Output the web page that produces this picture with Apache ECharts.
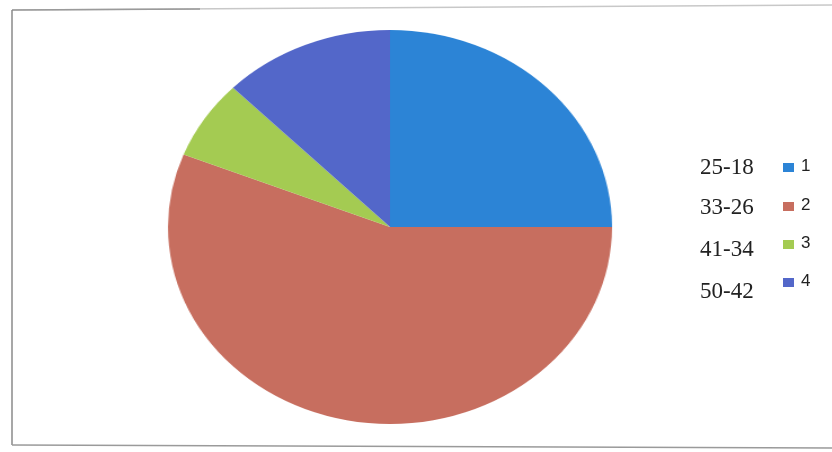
<!DOCTYPE html>
<html>
<head>
<meta charset="utf-8">
<script src="https://cdn.jsdelivr.net/npm/echarts@6/dist/echarts.min.js"></script>
<style>
  html, body { margin: 0; padding: 0; background: #fff; }
  #stage { position: relative; width: 832px; height: 452px; overflow: hidden; background: #fff; }
  #frame { position: absolute; left: 0; top: 0; width: 832px; height: 452px; }
  /* the pie is drawn round and stretched sideways into an oval */
  #pie { position: absolute; left: 190px; top: 27px; width: 400px; height: 400px;
         transform: scaleX(1.127); transform-origin: 200px 200px; }
</style>
</head>
<body>
<div id="stage">
  <div id="frame"></div>
  <div id="pie"></div>
</div>
<script>
// age groups and their shares
const ageRanges = ['25-18', '33-26', '41-34', '50-42'];
const groupNames = ['1', '2', '3', '4'];
const shares = [25, 56, 6.5, 12.5];
const colors = ['#2c84d6', '#c76e5f', '#a4cb52', '#5367c9'];

const pie = echarts.init(document.getElementById('pie'), null, { renderer: 'canvas' });
pie.setOption({
  animation: false,
  series: [{
    type: 'pie',
    radius: 197,
    center: ['50%', '50%'],
    startAngle: 90,
    clockwise: true,
    label: { show: false },
    labelLine: { show: false },
    itemStyle: { borderWidth: 0 },
    emphasis: { disabled: true },
    data: groupNames.map((n, i) => ({ name: n, value: shares[i], itemStyle: { color: colors[i] } }))
  }]
});

// frame, age-range captions and the key
const frame = echarts.init(document.getElementById('frame'), null, { renderer: 'canvas' });
const graphics = [
  { type: 'polyline', shape: { points: [[12, 10], [832, 5]] }, style: { stroke: '#c8c8c8', lineWidth: 1.5 } },
  { type: 'polyline', shape: { points: [[12, 10], [200, 9]] }, style: { stroke: '#9a9a9a', lineWidth: 1.5 } },
  { type: 'polyline', shape: { points: [[12, 10], [12, 445]] }, style: { stroke: '#8a8a8a', lineWidth: 1.5 } },
  { type: 'polyline', shape: { points: [[12, 445], [832, 448]] }, style: { stroke: '#9a9a9a', lineWidth: 1.5 } }
];
const captionY = [168, 208, 250, 292];
const keyY = [168, 207, 245, 283];
ageRanges.forEach((t, i) => {
  graphics.push({
    type: 'text', left: 700, top: captionY[i] - 12,
    style: { text: t, font: '23px "Liberation Serif", serif', fill: '#222' }
  });
});
groupNames.forEach((n, i) => {
  graphics.push({
    type: 'rect', shape: { x: 783, y: keyY[i] - 5, width: 11, height: 9 },
    style: { fill: colors[i] }
  });
  graphics.push({
    type: 'text', left: 801, top: keyY[i] - 10,
    style: { text: n, font: '17px "Liberation Sans", sans-serif', fill: '#222' }
  });
});
frame.setOption({ animation: false, graphic: graphics });
</script>
</body>
</html>
